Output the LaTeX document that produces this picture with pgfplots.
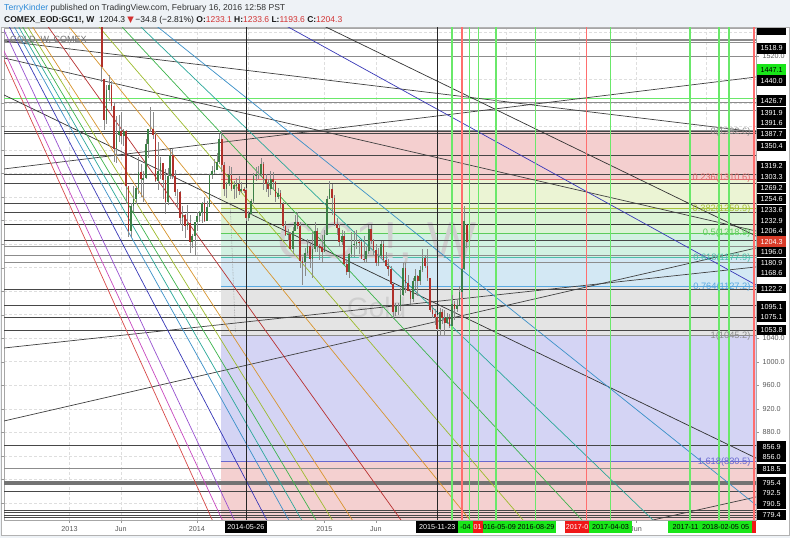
\documentclass[border=0pt]{standalone}
\usepackage{fontspec}
\setmainfont{Liberation Sans}
\newfontfamily\dejavu{DejaVu Sans}
\usepackage{pgfplots}
\usepackage{pgfplotstable}
\pgfplotsset{compat=1.18}

\definecolor{pagebg}{HTML}{EEF2F6}
\definecolor{tvblue}{HTML}{2E8BD8}
\definecolor{tvred}{HTML}{D23030}
\definecolor{candleup}{HTML}{3C8046}
\definecolor{candledn}{HTML}{B0302A}
\definecolor{wick}{HTML}{8A8A8A}
\definecolor{vgreen}{HTML}{6AE86A}
\definecolor{vred}{HTML}{FF6E6E}
\definecolor{boxgreen}{HTML}{19E619}
\definecolor{boxred}{HTML}{F01818}
% fib zones
\definecolor{fzA}{HTML}{F4CFCF}
\definecolor{fzB}{HTML}{EBF4D4}
\definecolor{fzC}{HTML}{DCF3D6}
\definecolor{fzD}{HTML}{D2F1E2}
\definecolor{fzE}{HTML}{D3E8F4}
\definecolor{fzF}{HTML}{E4E4E4}
\definecolor{fzG}{HTML}{D4D4F4}
\definecolor{fzH}{HTML}{F4D0D0}
\definecolor{fl0}{HTML}{8C8C8C}
\definecolor{flA}{HTML}{E06A6A}
\definecolor{flB}{HTML}{A8C23A}
\definecolor{flC}{HTML}{5CCC5C}
\definecolor{flD}{HTML}{4CBCAA}
\definecolor{flE}{HTML}{58A8E0}
\definecolor{flG}{HTML}{6868D0}
% fan lines
\definecolor{fnred}{HTML}{D84848}
\definecolor{fnmag}{HTML}{C848C0}
\definecolor{fnpur}{HTML}{9850D0}
\definecolor{fndblue}{HTML}{3838B8}
\definecolor{fnsteel}{HTML}{3A90C8}
\definecolor{fnteal}{HTML}{2AA89A}
\definecolor{fngreen}{HTML}{3CB44B}
\definecolor{fnyg}{HTML}{9CBB2C}
\definecolor{fnorange}{HTML}{D8942C}
\definecolor{fndred}{HTML}{B83030}

% weekly candles, k = weeks since 2013-01-01
\pgfplotstableread{
k o h l c
14 1580 1590 1476 1501
15 1480 1480 1394 1411
16 1411 1470 1405 1462
17 1462 1488 1444 1470
18 1470 1478 1427 1435
19 1435 1440 1339 1361
20 1361 1418 1338 1386
21 1386 1420 1373 1392
22 1392 1424 1370 1383
23 1383 1396 1366 1392
24 1392 1394 1268 1298
25 1298 1298 1212 1222
26 1222 1270 1212 1265
27 1265 1298 1255 1277
28 1277 1299 1269 1295
29 1295 1348 1286 1322
30 1322 1336 1280 1310
31 1310 1324 1271 1313
32 1313 1378 1311 1371
33 1371 1392 1347 1396
34 1396 1433 1391 1396
35 1396 1424 1378 1386
36 1386 1393 1306 1308
37 1308 1374 1292 1325
38 1325 1348 1310 1338
39 1338 1338 1277 1309
40 1309 1327 1251 1272
41 1272 1329 1267 1315
42 1315 1362 1311 1352
43 1352 1361 1310 1315
44 1315 1326 1281 1288
45 1288 1293 1262 1288
46 1288 1290 1233 1244
47 1244 1264 1222 1250
48 1250 1252 1211 1230
49 1230 1267 1224 1236
50 1236 1250 1185 1204
51 1204 1217 1193 1213
52 1213 1238 1182 1238
53 1238 1254 1222 1247
54 1247 1256 1237 1254
55 1254 1272 1236 1270
56 1270 1280 1238 1240
57 1240 1273 1240 1263
58 1263 1320 1263 1318
59 1318 1332 1310 1324
60 1324 1345 1320 1326
61 1326 1355 1326 1339
62 1339 1388 1336 1379
63 1379 1392 1322 1334
64 1334 1339 1282 1294
65 1294 1306 1278 1303
66 1303 1333 1298 1318
67 1318 1331 1290 1293
68 1293 1307 1276 1300
69 1300 1313 1278 1302
70 1302 1316 1284 1290
71 1290 1306 1287 1293
72 1293 1297 1287 1292
73 1292 1295 1240 1245
74 1245 1257 1240 1252
75 1252 1277 1250 1274
76 1274 1321 1268 1316
77 1316 1331 1308 1320
78 1320 1333 1310 1320
79 1320 1346 1316 1337
80 1337 1340 1292 1310
81 1310 1320 1288 1303
82 1303 1311 1280 1294
83 1294 1324 1283 1310
84 1310 1322 1292 1306
85 1306 1307 1272 1280
86 1280 1296 1277 1287
87 1287 1292 1262 1268
88 1268 1272 1228 1230
89 1230 1239 1213 1216
90 1216 1226 1206 1218
91 1218 1220 1190 1192
92 1192 1229 1183 1222
93 1222 1250 1222 1238
94 1238 1255 1226 1231
95 1231 1237 1160 1171
96 1171 1178 1131 1169
97 1169 1193 1145 1185
98 1185 1209 1180 1197
99 1197 1203 1159 1175
100 1175 1221 1142 1191
101 1191 1238 1187 1222
102 1222 1227 1186 1196
103 1196 1200 1173 1195
104 1195 1215 1167 1186
105 1186 1224 1186 1216
106 1216 1282 1216 1276
107 1276 1307 1276 1294
108 1294 1303 1250 1279
109 1279 1284 1230 1234
110 1234 1245 1216 1227
111 1227 1235 1196 1204
112 1204 1224 1198 1213
113 1213 1222 1164 1167
114 1167 1175 1147 1153
115 1153 1185 1142 1183
116 1183 1220 1178 1199
117 1199 1223 1178 1201
118 1201 1224 1191 1204
119 1204 1208 1183 1203
120 1203 1206 1175 1175
121 1175 1214 1169 1174
122 1174 1195 1168 1189
123 1189 1232 1183 1225
124 1225 1232 1200 1205
125 1205 1209 1181 1190
126 1190 1200 1162 1168
127 1168 1194 1162 1180
128 1180 1205 1175 1201
129 1201 1205 1168 1173
130 1173 1186 1161 1163
131 1163 1175 1146 1157
132 1157 1162 1130 1132
133 1132 1134 1072 1085
134 1085 1099 1077 1094
135 1094 1099 1080 1094
136 1094 1126 1087 1113
137 1113 1168 1111 1159
138 1159 1170 1117 1134
139 1134 1148 1120 1121
140 1121 1123 1098 1107
141 1107 1142 1101 1137
142 1137 1157 1124 1145
143 1145 1148 1111 1137
144 1137 1162 1131 1156
145 1156 1191 1153 1177
146 1177 1179 1159 1162
147 1162 1191 1137 1142
148 1142 1142 1084 1088
149 1088 1095 1075 1081
150 1081 1089 1063 1076
151 1076 1079 1052 1056
152 1056 1091 1046 1085
153 1085 1090 1064 1075
154 1075 1088 1046 1065
155 1065 1083 1064 1076
156 1076 1081 1057 1061
157 1061 1113 1061 1098
158 1098 1104 1071 1089
159 1089 1106 1084 1097
160 1097 1128 1097 1118
161 1118 1160 1108 1158
162 1158 1264 1156 1239
163 1233.1 1233.6 1193.6 1204.3
}\gold

\tikzset{
  plab/.style={fill=black, text=white, inner sep=0pt, minimum width=29pt,
    minimum height=10.4pt, font=\fontsize{7.2}{8}\selectfont, anchor=west},
  dlab/.style={inner sep=0pt, minimum height=11.5pt, font=\fontsize{7.2}{8}\selectfont},
  fibt/.style={anchor=east, inner sep=0pt, font=\fontsize{9.3}{10}\selectfont},
}

\begin{document}
\begin{tikzpicture}[x=1pt,y=1pt]
\useasboundingbox (0,0) rectangle (790,538);
\fill[pagebg] (0,0) rectangle (790,538);
\fill[white] (1,3) rectangle (789,511);
\draw[black!30] (1,3) rectangle (789,511);

\begin{axis}[
  at={(4pt,18pt)}, anchor=south west,
  width=752pt, height=492pt, scale only axis,
  xmin=-25.88, xmax=281.10, ymin=730.8, ymax=1567.5,
  axis line style={black!35},
  xtick={0.86,21.86,52.9,73.9,104.93,125.93,156.97,178.97,208.86,232.1,260.9},
  xticklabels={2013,Jun,2014,,2015,Jun,,,,Jun,},
  ytick={760,800,...,1560},
  yticklabels={,,,880.0,920.0,960.0,1000.0,1040.0,,,,,,,,,,,,1520.0,},
  yticklabel pos=right,
  tick label style={font=\fontsize{7.2}{8}\selectfont, text=black!65},
  tick align=outside, major tick length=3pt, tick style={black!40},
  grid=major, major grid style={densely dashed, black!13},
  xtick pos=bottom,
]
% fibonacci zones
\addplot[draw=none, fill=fzA] coordinates {(62.70,1392.6) (300,1392.6) (300,1310.6) (62.70,1310.6)} -- cycle;
\addplot[draw=none, fill=fzB] coordinates {(62.70,1310.6) (300,1310.6) (300,1259.9) (62.70,1259.9)} -- cycle;
\addplot[draw=none, fill=fzC] coordinates {(62.70,1259.9) (300,1259.9) (300,1218.9) (62.70,1218.9)} -- cycle;
\addplot[draw=none, fill=fzD] coordinates {(62.70,1218.9) (300,1218.9) (300,1177.9) (62.70,1177.9)} -- cycle;
\addplot[draw=none, fill=fzE] coordinates {(62.70,1177.9) (300,1177.9) (300,1127.2) (62.70,1127.2)} -- cycle;
\addplot[draw=none, fill=fzF] coordinates {(62.70,1127.2) (300,1127.2) (300,1045.2) (62.70,1045.2)} -- cycle;
\addplot[draw=none, fill=fzG] coordinates {(62.70,1045.2) (300,1045.2) (300,830.5) (62.70,830.5)} -- cycle;
\addplot[draw=none, fill=fzH] coordinates {(62.70,830.5) (300,830.5) (300,483.0) (62.70,483.0)} -- cycle;
\addplot[fl0, line width=0.8pt] coordinates {(62.70,1392.6) (300,1392.6)};
\addplot[flA, line width=0.8pt] coordinates {(62.70,1310.6) (300,1310.6)};
\addplot[flB, line width=0.8pt] coordinates {(62.70,1259.9) (300,1259.9)};
\addplot[flC, line width=0.8pt] coordinates {(62.70,1218.9) (300,1218.9)};
\addplot[flD, line width=0.8pt] coordinates {(62.70,1177.9) (300,1177.9)};
\addplot[flE, line width=0.8pt] coordinates {(62.70,1127.2) (300,1127.2)};
\addplot[fl0, line width=0.8pt] coordinates {(62.70,1045.2) (300,1045.2)};
\addplot[flG, line width=0.8pt] coordinates {(62.70,830.5) (300,830.5)};
\addplot[black!40, densely dotted, line width=0.6pt] coordinates {(66.42,1272) (68.58,1050)};

% watermark
\node[text=black!19, font=\fontsize{52}{52}\selectfont] at (axis cs:126.25,1201) {GC1!, W};
\node[text=black!19, font=\fontsize{28}{28}\selectfont] at (axis cs:126.25,1092) {Gold};

% horizontal levels
\pgfplotsinvokeforeach{1547,1543}{\addplot[black!45, line width=1.3pt] coordinates {(-40,#1) (300,#1)};}
\pgfplotsinvokeforeach{1518.9,1440.0,1426.7,1196.0,1180.9,1168.6,818.5}{\addplot[black!45, line width=1pt] coordinates {(-40,#1) (300,#1)};}
\pgfplotsinvokeforeach{1391.9,1391.6,1387.7,1350.4,1319.2,1303.3,1269.2,1254.6,1206.4,1122.2,1095.1,1075.1,1053.8,856.9,779.4,747,743,739,735}{\addplot[black!72, line width=0.7pt] coordinates {(-40,#1) (300,#1)};}
\pgfplotsinvokeforeach{795.4,792.5,790.5}{\addplot[black!55, line width=1.2pt] coordinates {(-40,#1) (300,#1)};}
\addplot[black, line width=1pt] coordinates {(-40,1233.6) (300,1233.6)};
\addplot[black!80, line width=0.7pt] coordinates {(-40,1232.9) (300,1232.9)};
\addplot[vgreen, line width=1.4pt] coordinates {(-40,1447.1) (300,1447.1)};

% trend lines
\addplot[black!75, line width=0.7pt] coordinates {(-35.68,1550.3) (290.89,1385.7)};
\addplot[black!75, line width=0.7pt] coordinates {(-35.68,1525.9) (290.89,1212.9)};
\addplot[black!80, line width=0.7pt] coordinates {(-35.68,1473.3) (290.89,816.5)};
\addplot[black!75, line width=0.7pt] coordinates {(-35.68,1322.8) (290.89,1489.1)};
\addplot[black!75, line width=0.7pt] coordinates {(-35.68,889.8) (290.89,1202.7)};
\addplot[black!75, line width=0.7pt] coordinates {(-35.68,1018.9) (290.89,1165.5)};
\addplot[black!80, line width=0.7pt] coordinates {(86.78,1607.1) (290.89,1193.9)};
\addplot[black!75, line width=0.7pt] coordinates {(217.41,710.7) (290.89,779.1)};

% fan lines
\addplot[fnred, line width=0.7pt] coordinates {(-34.38,1591.3) (67.64,652.6)};
\addplot[fnmag, line width=0.7pt] coordinates {(-34.78,1608.2) (72.13,651.0)};
\addplot[fnpur, line width=0.7pt] coordinates {(-35.72,1651.2) (77.55,647.1)};
\addplot[fndblue, line width=0.7pt] coordinates {(-33.92,1651.2) (91.85,647.1)};
\addplot[fnsteel, line width=0.7pt] coordinates {(-32.57,1651.2) (101.52,647.1)};
\addplot[fnteal, line width=0.7pt] coordinates {(-31.14,1651.2) (107.16,647.1)};
\addplot[fngreen, line width=0.7pt] coordinates {(-29.96,1651.2) (113.45,647.1)};
\addplot[fnyg, line width=0.7pt] coordinates {(-28.37,1651.2) (120.54,647.1)};
\addplot[fnorange, line width=0.7pt] coordinates {(-26.94,1651.2) (129.33,647.1)};
\addplot[fndred, line width=0.7pt] coordinates {(-21.88,1651.2) (150.55,647.1)};
\addplot[fnorange, line width=0.7pt] coordinates {(-15.26,1651.2) (180.67,647.1)};
\addplot[fnyg, line width=0.7pt] coordinates {(-3.96,1651.2) (203.25,647.1)};
\addplot[fngreen, line width=0.7pt] coordinates {(3.96,1651.2) (228.81,647.1)};
\addplot[fnteal, line width=0.7pt] coordinates {(9.59,1651.2) (259.90,647.1)};
\addplot[fnsteel, line width=0.7pt] coordinates {(13.02,1648.6) (305.46,675.2)};
\addplot[fndblue, line width=0.7pt] coordinates {(71.85,1611.2) (300.12,1086.7)};

% vertical time lines
\pgfplotsinvokeforeach{72.90,151.16}{\addplot[black!85, line width=0.7pt] coordinates {(#1,600) (#1,1700)};}
\pgfplotsinvokeforeach{157.00,164.06,167.90,174.96,191.16,221.78,254.15,265.99,270.07}{\addplot[vgreen, line width=1.2pt] coordinates {(#1,600) (#1,1700)};}
\pgfplotsinvokeforeach{161.08,211.98,280.27}{\addplot[vred, line width=1.2pt] coordinates {(#1,600) (#1,1700)};}

% candles: wick = high-low range, body = open-close range
\addplot[draw=none, mark=none, error bars/.cd, y dir=both, y explicit, error mark=none,
  error bar style={draw=wick, line width=0.5pt}]
  table[x=k, y expr={(\thisrow{h}+\thisrow{l})/2}, y error expr={(\thisrow{h}-\thisrow{l})/2}] {\gold};
\addplot[draw=none, mark=none, error bars/.cd, y dir=both, y explicit, error mark=none,
  error bar style={draw=candleup, line width=1.7pt}]
  table[x=k, y expr={(\thisrow{o}+\thisrow{c})/2},
    y error expr={\thisrow{c}>=\thisrow{o} ? (\thisrow{c}-\thisrow{o})/2 : 0}] {\gold};
\addplot[draw=none, mark=none, error bars/.cd, y dir=both, y explicit, error mark=none,
  error bar style={draw=candledn, line width=1.7pt}]
  table[x=k, y expr={(\thisrow{o}+\thisrow{c})/2},
    y error expr={\thisrow{c}<\thisrow{o} ? (\thisrow{o}-\thisrow{c})/2 : 0}] {\gold};
\end{axis}

% header
\node[anchor=base west, inner sep=0pt, font=\fontsize{8.6}{10}\selectfont, text=black!80] at (4,527)
  {\textcolor{tvblue}{TerryKinder} published on TradingView.com, February 16, 2016 12:58 PST};
\node[anchor=base west, inner sep=0pt, font=\fontsize{8.5}{10}\selectfont, text=black!90] at (4,515)
  {\textbf{COMEX\_EOD:GC1!, W}\ \ 1204.3 {\dejavu\textcolor{tvred}{▼}}\,−34.8 (−2.81\%)
   \textbf{O:}\textcolor{tvred}{1233.1} \textbf{H:}\textcolor{tvred}{1233.6}
   \textbf{L:}\textcolor{tvred}{1193.6} \textbf{C:}\textcolor{tvred}{1204.3}};
\node[anchor=west, inner sep=0pt, font=\fontsize{9}{10}\selectfont, text=black!55] at (10,498) {GOLD, W, COMEX};

% fib labels
\node[fibt, text=fl0] at (750.7,406.3) {0(1392.6)};
\node[fibt, text=flA] at (750.7,360) {0.236(1310.6)};
\node[fibt, text=flB] at (750.7,328.7) {0.382(1259.9)};
\node[fibt, text=flC] at (750.7,304.7) {0.5(1218.9)};
\node[fibt, text=flD] at (750.7,279.7) {0.618(1177.9)};
\node[fibt, text=flE] at (750.7,250.7) {0.764(1127.2)};
\node[fibt, text=fl0] at (750.7,202.3) {1(1045.2)};
\node[fibt, text=flG] at (750.7,76.3) {1.618(830.5)};

% price labels
\fill[black] (757,503) rectangle (786,510);
\node[plab] at (757,489.5) {1518.9};
\node[plab, fill=boxgreen, text=black] at (757,468.3) {1447.1};
\node[plab] at (757,457.3) {1440.0};
\node[plab] at (757,437.3) {1426.7};
\node[plab] at (757,425.3) {1391.9};
\node[plab] at (757,414.7) {1391.6};
\node[plab] at (757,403.7) {1387.7};
\node[plab] at (757,392) {1350.4};
\node[plab] at (757,371.5) {1319.2};
\node[plab] at (757,360.9) {1303.3};
\node[plab] at (757,349.7) {1269.2};
\node[plab] at (757,338.7) {1254.6};
\node[plab] at (757,328) {1233.6};
\node[plab] at (757,317.3) {1232.9};
\node[plab] at (757,306.7) {1206.4};
\node[plab, fill=tvred!85!orange] at (757,296.3) {1204.3};
\node[plab] at (757,285.9) {1196.0};
\node[plab] at (757,275.2) {1180.9};
\node[plab] at (757,264.5) {1168.6};
\node[plab, fill=white] at (757,256) {};
\node[plab] at (757,248.7) {1122.2};
\node[plab, fill=white] at (757,240) {};
\node[plab] at (757,231.3) {1095.1};
\node[plab] at (757,220.7) {1075.1};
\node[plab] at (757,207.7) {1053.8};
\node[plab] at (757,91.3) {856.9};
\node[plab] at (757,80.7) {856.0};
\node[plab] at (757,68.7) {818.5};
\node[plab] at (757,55.3) {795.4};
\node[plab] at (757,44.6) {792.5};
\node[plab] at (757,33.9) {790.5};
\node[plab] at (757,23.2) {779.4};

% date labels
\node[dlab, fill=black, text=white, minimum width=41.7pt] at (245.85,10.75) {2014-05-26};
\node[dlab, fill=black, text=white, minimum width=42.3pt] at (437.2,10.75) {2015-11-23};
\node[dlab, fill=boxgreen, minimum width=14.4pt] at (465.5,10.75) {-04};
\node[dlab, fill=boxred, text=white, minimum width=10pt] at (477.7,10.75) {01};
\node[dlab, fill=boxgreen, minimum width=33.3pt] at (499.35,10.75) {016-05-09};
\node[dlab, fill=boxgreen, minimum width=40pt] at (536,10.75) {2016-08-29};
\node[dlab, fill=boxred, text=white, minimum width=24.3pt] at (577.15,10.75) {2017-0};
\node[dlab, fill=boxgreen, minimum width=42.4pt] at (610.5,10.75) {2017-04-03};
\fill[boxgreen] (667.7,5) rectangle (751.7,16.5);
\node[dlab] at (685.5,10.75) {2017-11};
\node[dlab] at (720.5,10.75) {2018-02-05};
\node[dlab] at (745,10.75) {05};
\fill[boxred] (751.7,5) rectangle (755.7,16.5);
\end{tikzpicture}
\end{document}
